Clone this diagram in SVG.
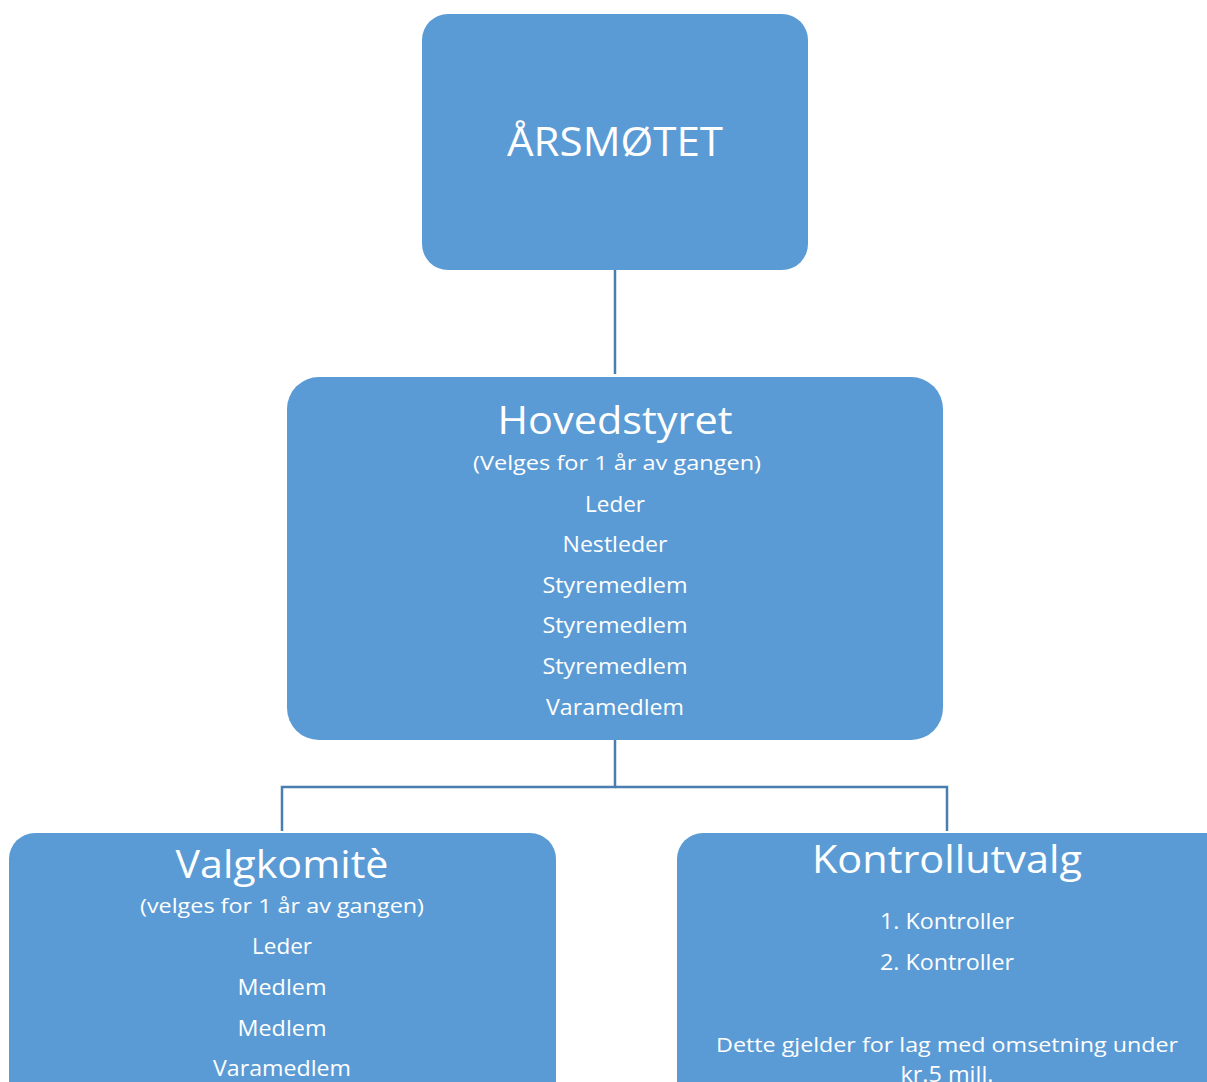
<svg xmlns="http://www.w3.org/2000/svg" width="1207" height="1082" viewBox="0 0 1207 1082">
<style>
.box{fill:#5B9BD5;stroke:none}
.conn{stroke:#4A7EB0;stroke-width:2.5;fill:none}
text{fill:#ffffff;font-family:"Open Sans","Liberation Sans",sans-serif;text-anchor:middle}
.t1{font-size:40px}
.t2{font-size:38px}
.t3{font-size:20px}
.t4{font-size:21px}
</style>
<rect width="1207" height="1082" fill="#ffffff"/>
<g id="connectors">
<line class="conn" x1="615" y1="270" x2="615" y2="374"/>
<polyline class="conn" points="615,740 615,787 282,787 282,831"/>
<polyline class="conn" points="615,787 947,787 947,831"/>
</g>
<g id="node-arsmotet">
<rect class="box" x="422" y="14" width="386" height="256" rx="26"/>
<text class="t1" x="615" y="156" textLength="216" lengthAdjust="spacingAndGlyphs">ÅRSMØTET</text>
</g>
<g id="node-hovedstyret">
<rect class="box" x="287" y="377" width="656" height="363" rx="32"/>
<text class="t2" x="615" y="434" textLength="235" lengthAdjust="spacingAndGlyphs">Hovedstyret</text>
<text class="t3" x="617" y="470" textLength="288" lengthAdjust="spacingAndGlyphs">(Velges for 1 år av gangen)</text>
<text class="t4" x="615" y="512" textLength="60" lengthAdjust="spacingAndGlyphs">Leder</text>
<text class="t4" x="615" y="552" textLength="105" lengthAdjust="spacingAndGlyphs">Nestleder</text>
<text class="t4" x="615" y="593" textLength="145" lengthAdjust="spacingAndGlyphs">Styremedlem</text>
<text class="t4" x="615" y="633" textLength="145" lengthAdjust="spacingAndGlyphs">Styremedlem</text>
<text class="t4" x="615" y="674" textLength="145" lengthAdjust="spacingAndGlyphs">Styremedlem</text>
<text class="t4" x="615" y="715" textLength="138" lengthAdjust="spacingAndGlyphs">Varamedlem</text>
</g>
<g id="node-valgkomite">
<rect class="box" x="9" y="833" width="547" height="280" rx="26"/>
<text class="t2" x="282" y="878" textLength="213" lengthAdjust="spacingAndGlyphs">Valgkomitè</text>
<text class="t3" x="282" y="913" textLength="284" lengthAdjust="spacingAndGlyphs">(velges for 1 år av gangen)</text>
<text class="t4" x="282" y="954" textLength="60" lengthAdjust="spacingAndGlyphs">Leder</text>
<text class="t4" x="282" y="995" textLength="89" lengthAdjust="spacingAndGlyphs">Medlem</text>
<text class="t4" x="282" y="1036" textLength="89" lengthAdjust="spacingAndGlyphs">Medlem</text>
<text class="t4" x="282" y="1076" textLength="138" lengthAdjust="spacingAndGlyphs">Varamedlem</text>
</g>
<g id="node-kontrollutvalg">
<rect class="box" x="677" y="833" width="580" height="280" rx="26"/>
<text class="t2" x="947" y="873" textLength="270" lengthAdjust="spacingAndGlyphs">Kontrollutvalg</text>
<text class="t4" x="947" y="929" textLength="134" lengthAdjust="spacingAndGlyphs">1. Kontroller</text>
<text class="t4" x="947" y="970" textLength="134" lengthAdjust="spacingAndGlyphs">2. Kontroller</text>
<text class="t3" x="947" y="1052" textLength="462" lengthAdjust="spacingAndGlyphs">Dette gjelder for lag med omsetning under</text>
<text class="t4" x="947" y="1082" textLength="93" lengthAdjust="spacingAndGlyphs">kr.5 mill.</text>
</g>
</svg>
